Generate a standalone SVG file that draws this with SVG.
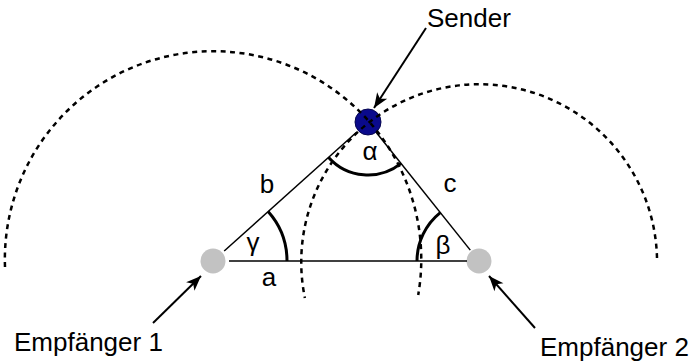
<svg xmlns="http://www.w3.org/2000/svg" width="690" height="361" viewBox="0 0 690 361">
<style>
  .lbl { font-family: "Liberation Sans", Arial, sans-serif; font-size: 26px; fill: #000; }
  .sym { font-family: "Liberation Sans", Arial, sans-serif; font-size: 26px; fill: #000; text-anchor: middle; }
  .side { stroke: #000; stroke-width: 1.5; fill: none; }
  .angle { stroke: #000; stroke-width: 3; fill: none; }
  .wave { stroke: #000; stroke-width: 2.5; fill: none; stroke-dasharray: 5 4.5; }
  .ptr { stroke: #000; stroke-width: 2; fill: none; marker-end: url(#head); }
  .rx { fill: #c2c2c2; }
</style>
<defs>
  <marker id="head" markerUnits="userSpaceOnUse" markerWidth="17" markerHeight="14" viewBox="-16 -7 17 14" refX="0" refY="0" orient="auto">
    <path d="M0,0 L-15,-6 L-11,0 L-15,6 Z" fill="#000"/>
  </marker>
</defs>
<rect width="690" height="361" fill="#fff"/>

<g id="sender">
  <circle cx="368" cy="122" r="13" fill="#0a0a8c" stroke="#050550" stroke-width="1"/>
  <text class="lbl" x="427" y="27">Sender</text>
</g>
<g id="empfaenger1">
  <circle class="rx" cx="213" cy="261" r="12.5"/>
  <text class="lbl" x="14" y="351">Empfänger 1</text>
</g>
<g id="empfaenger2">
  <circle class="rx" cx="479" cy="261" r="12.5"/>
  <text class="lbl" x="540" y="356">Empfänger 2</text>
</g>

<g id="waves">
  <path class="wave" d="M5,267 A208.2,208.2 0 1 1 418.2,295"/>
  <path class="wave" d="M657,258 A177.9,177.9 0 1 0 304.9,298"/>
</g>

<g id="connectors">
  <line class="side" x1="224.2" y1="251" x2="356.8" y2="132"/>
  <line class="side" x1="376.1" y1="132.2" x2="470.3" y2="250.1"/>
  <line class="side" x1="229" y1="261" x2="467" y2="261"/>
  <line class="ptr" x1="426" y1="28" x2="374" y2="108"/>
  <line class="ptr" x1="153" y1="323" x2="201" y2="276"/>
  <line class="ptr" x1="535" y1="328" x2="489" y2="276"/>
</g>

<g id="angles">
  <path class="angle" d="M287,261 A74,74 0 0 0 268.1,211.6"/>
  <path class="angle" d="M417,261 A62,62 0 0 1 440.3,212.6"/>
  <path class="angle" d="M328.6,157.4 A53,53 0 0 0 401.1,163.4"/>
  <text class="sym" x="370" y="160">α</text>
  <text class="sym" x="253" y="251">γ</text>
  <text class="sym" x="443" y="254">β</text>
  <text class="sym" x="267" y="193">b</text>
  <text class="sym" x="450" y="192">c</text>
  <text class="sym" x="269" y="286">a</text>
</g>
</svg>
